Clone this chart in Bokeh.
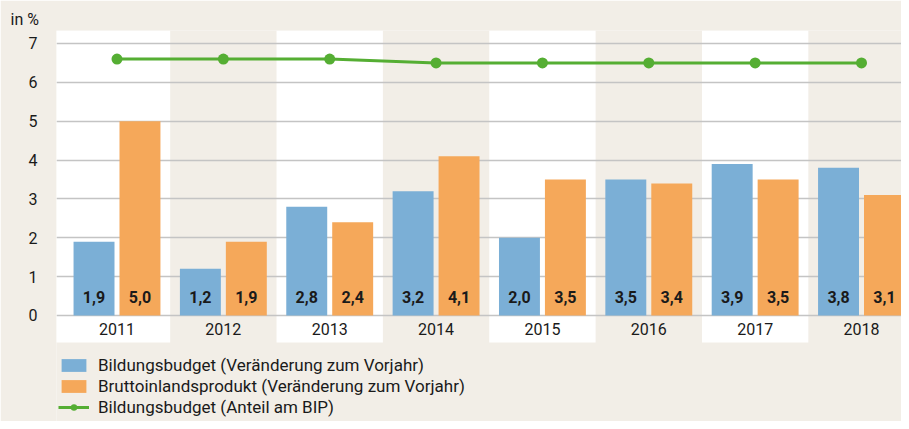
from bokeh.plotting import figure
from bokeh.models import Range1d, FixedTicker, Legend, LegendItem, ColumnDataSource
from bokeh.core.properties import value
from bokeh.embed import file_html
from bokeh.resources import INLINE

years = ["2011", "2012", "2013", "2014", "2015", "2016", "2017", "2018"]
bildung = [1.9, 1.2, 2.8, 3.2, 2.0, 3.5, 3.9, 3.8]
bip = [5.0, 1.9, 2.4, 4.1, 3.5, 3.4, 3.5, 3.1]
anteil = [6.6, 6.6, 6.6, 6.5, 6.5, 6.5, 6.5, 6.5]
y_ticks = [0, 1, 2, 3, 4, 5, 6, 7]

FONT = "Roboto"
BG = "#f2eee7"
BLUE = "#7bafd6"
ORANGE = "#f5a85a"
GREEN = "#55ae33"
TXT = "#1a1a1a"

idx = list(range(len(years)))
off = 0.216
bw = 0.385

p = figure(width=901, height=421, output_backend="svg", toolbar_location=None,
           x_range=Range1d(-0.5688, 7.376), y_range=Range1d(-2.728, 7.3345),
           x_axis_location=None, min_border_left=56, min_border_right=0,
           min_border_top=30, min_border_bottom=0)
p.background_fill_color = BG
p.border_fill_color = BG
p.outline_line_color = None
p.xgrid.visible = False
p.ygrid.ticker = FixedTicker(ticks=y_ticks)
p.ygrid.grid_line_color = "#c4c4c4"
p.ygrid.grid_line_width = 1.5

p.title.text = "in %"
p.title.align = "left"
p.title.offset = -46
p.title.standoff = 3
p.title.text_font = FONT
p.title.text_font_size = "16px"
p.title.text_font_style = "normal"
p.title.text_color = TXT

# alternating white bands
band_x = [i for i in idx if i % 2 == 0]
band_left = [i - 0.5 if i > 0 else -1.0 for i in band_x]
band_right = [i + 0.5 for i in band_x]
p.quad(left=band_left, right=band_right, bottom=-0.695, top=p.y_range.end,
       color="white", line_color=None, level="image")

src = ColumnDataSource(dict(
    x=idx, xb=[i - off for i in idx], xo=[i + off for i in idx],
    bildung=bildung, bip=bip, anteil=anteil, years=years,
    lb=[f"{v:.1f}".replace(".", ",") for v in bildung],
    lo=[f"{v:.1f}".replace(".", ",") for v in bip],
    zero=[0] * len(idx),
))

rb = p.vbar(x="xb", top="bildung", width=bw, bottom=0, color=BLUE, line_color=None, source=src)
ro = p.vbar(x="xo", top="bip", width=bw, bottom=0, color=ORANGE, line_color=None, source=src)
rl = p.line(x="x", y="anteil", line_width=3, color=GREEN, source=src)
rs = p.scatter(x="x", y="anteil", size=11, color=GREEN, line_color=None, source=src)

for xcol, tcol in (("xb", "lb"), ("xo", "lo")):
    p.text(x=xcol, y="zero", text=tcol, source=src, y_offset=-18,
           text_align="center", text_baseline="middle",
           text_font=value(FONT), text_font_style="bold",
           text_font_size="16px", text_color=TXT)

p.text(x="x", y="zero", text="years", source=src, y_offset=14,
       text_align="center", text_baseline="middle",
       text_font=value(FONT), text_font_size="16px", text_color=TXT)

ax = p.yaxis[0]
ax.ticker = FixedTicker(ticks=y_ticks)
ax.axis_line_color = None
ax.major_tick_line_color = None
ax.minor_tick_line_color = None
ax.major_label_standoff = 13
ax.major_label_text_font = FONT
ax.major_label_text_font_size = "16px"
ax.major_label_text_color = TXT

legend = Legend(items=[
    LegendItem(label="Bildungsbudget (Veränderung zum Vorjahr)", renderers=[rb]),
    LegendItem(label="Bruttoinlandsprodukt (Veränderung zum Vorjahr)", renderers=[ro]),
    LegendItem(label="Bildungsbudget (Anteil am BIP)", renderers=[rl, rs]),
], location=(2, 4), orientation="vertical")
legend.background_fill_alpha = 0
legend.border_line_color = None
legend.padding = 0
legend.margin = 0
legend.spacing = 1
legend.glyph_width = 31
legend.glyph_height = 16
legend.label_standoff = 9
legend.label_text_font = FONT
legend.label_text_font_size = "17px"
legend.label_text_color = TXT
legend.label_height = 16
p.add_layout(legend)

open("out.html", "w").write(file_html(p, INLINE))
